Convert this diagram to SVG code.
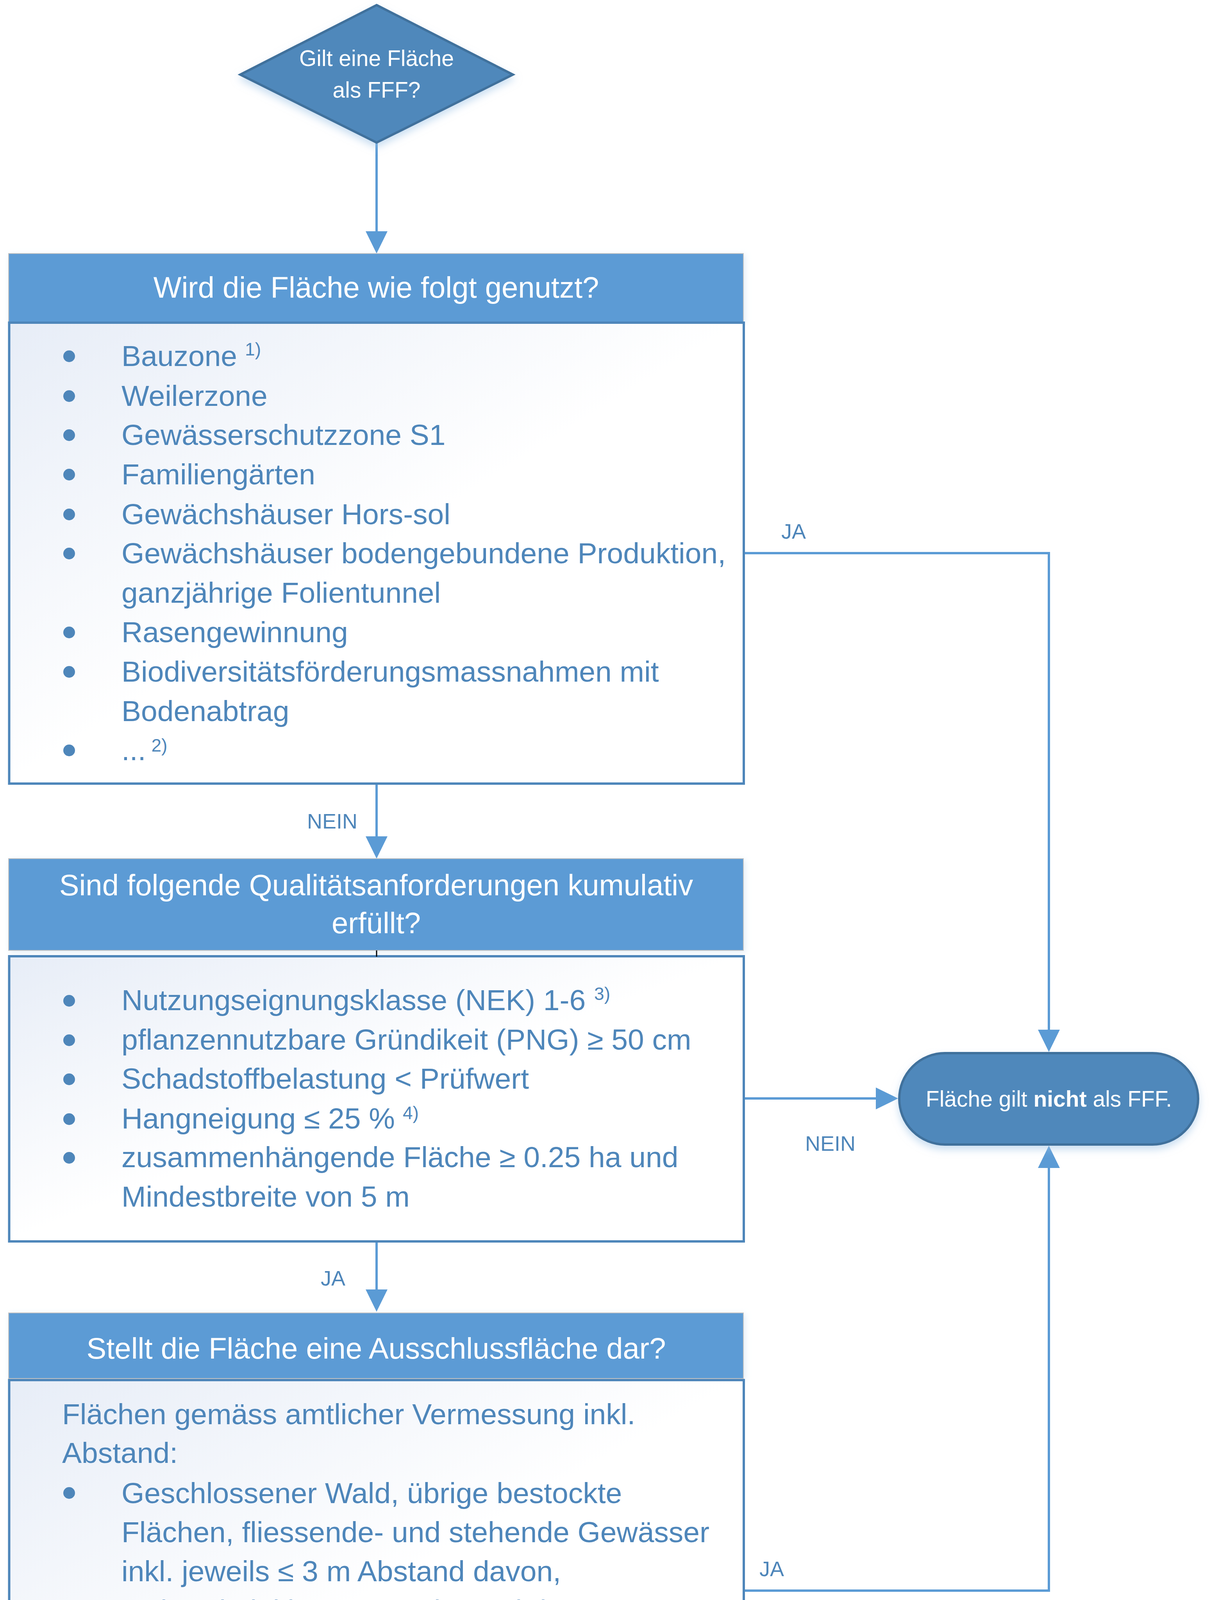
<svg xmlns="http://www.w3.org/2000/svg" width="3100" height="5098" viewBox="0 0 3100 5098">
<style>
text{font-family:"Liberation Sans",Arial,sans-serif}
.hd{fill:#FFFFFF;font-size:76px;text-anchor:middle}
.tx{fill:#4E86BA;font-size:75px}
.sup{font-size:46px}
.lbl{fill:#4E86BA;font-size:54px}
.wt{fill:#FFFFFF;font-size:57px;text-anchor:middle}
.hdr{fill:#5B9BD5;stroke:#C4C4C4;stroke-width:2}
.body{fill:url(#bg);stroke:#4E86BA;stroke-width:6}
.bul{fill:#4E86BA}
.shape{fill:#4F88BB;stroke:#41719C;stroke-width:6}
.con{fill:none;stroke:#5B9BD5;stroke-width:6;marker-end:url(#ah)}
</style>
<defs>
<linearGradient id="bg" x1="0" y1="0" x2="0.5" y2="0.5">
<stop offset="0" stop-color="#E7EDF7"/>
<stop offset="1" stop-color="#FFFFFF"/>
</linearGradient>
<filter id="glow" x="-10%" y="-10%" width="120%" height="135%">
<feGaussianBlur in="SourceAlpha" stdDeviation="10" result="b"/>
<feOffset in="b" dy="10" result="o"/>
<feFlood flood-color="#9DC3E6" flood-opacity="0.55"/>
<feComposite in2="o" operator="in" result="s"/>
<feMerge><feMergeNode in="s"/><feMergeNode in="SourceGraphic"/></feMerge>
</filter>
<filter id="glow2" x="-5%" y="-10%" width="110%" height="130%">
<feGaussianBlur in="SourceAlpha" stdDeviation="8" result="b"/>
<feOffset in="b" dx="4" dy="4" result="o"/>
<feFlood flood-color="#BDD7EE" flood-opacity="0.45"/>
<feComposite in2="o" operator="in" result="s"/>
<feMerge><feMergeNode in="s"/><feMergeNode in="SourceGraphic"/></feMerge>
</filter>
<marker id="ah" markerUnits="userSpaceOnUse" viewBox="0 0 57 56" markerWidth="57" markerHeight="56" refX="0" refY="28" orient="auto">
<path d="M0,0 L57,28 L0,56 Z" fill="#5B9BD5"/>
</marker>
</defs>
<rect x="0" y="0" width="3100" height="5098" fill="#FFFFFF"/>

<g id="connectors">
<path class="con" d="M964,367 V592"/>
<path class="con" d="M964,2008 V2141"/>
<path class="con" d="M964,3181 V3301"/>
<path class="con" d="M964,4616 V4757"/>
<path class="con" d="M1904,1416 H2685 V2636"/>
<path class="con" d="M1904,2812 H2242"/>
<path class="con" d="M1904,4072 H2685 V2990"/>
<text class="lbl" x="2000" y="1379">JA</text>
<text class="lbl" x="786" y="2121">NEIN</text>
<text class="lbl" x="2061" y="2946">NEIN</text>
<text class="lbl" x="821" y="3291">JA</text>
<text class="lbl" x="1944" y="4035">JA</text>
<text class="lbl" x="786" y="4747">NEIN</text>
</g>

<g id="start">
<polygon class="shape" filter="url(#glow)" points="964,13 1313,191 964,365 615,191" transform="translate(0,0)"/>
<text class="wt" x="964" y="169">Gilt eine Fläche</text>
<text class="wt" x="964" y="250">als FFF?</text>
</g>

<g id="nutzung">
<rect class="hdr" filter="url(#glow2)" x="22" y="649" width="1881" height="175"/>
<rect class="body" x="23.5" y="826" width="1880.5" height="1180"/>
<text class="hd" x="963" y="762">Wird die Fläche wie folgt genutzt?</text>
<circle class="bul" cx="177" cy="912" r="15"/>
<circle class="bul" cx="177" cy="1014" r="15"/>
<circle class="bul" cx="177" cy="1114" r="15"/>
<circle class="bul" cx="177" cy="1215" r="15"/>
<circle class="bul" cx="177" cy="1317" r="15"/>
<circle class="bul" cx="177" cy="1417" r="15"/>
<circle class="bul" cx="177" cy="1619" r="15"/>
<circle class="bul" cx="177" cy="1720" r="15"/>
<circle class="bul" cx="177" cy="1921" r="15"/>
<text class="tx" x="311" y="937">Bauzone<tspan class="sup" dx="20" dy="-27">1)</tspan></text>
<text class="tx" x="311" y="1039">Weilerzone</text>
<text class="tx" x="311" y="1139">Gewässerschutzzone S1</text>
<text class="tx" x="311" y="1240">Familiengärten</text>
<text class="tx" x="311" y="1342">Gewächshäuser Hors-sol</text>
<text class="tx" x="311" y="1442">Gewächshäuser bodengebundene Produktion,</text>
<text class="tx" x="311" y="1543">ganzjährige Folientunnel</text>
<text class="tx" x="311" y="1644">Rasengewinnung</text>
<text class="tx" x="311" y="1745">Biodiversitätsförderungsmassnahmen mit</text>
<text class="tx" x="311" y="1846">Bodenabtrag</text>
<text class="tx" x="311" y="1946">...<tspan class="sup" dx="14" dy="-22">2)</tspan></text>
</g>

<g id="qualitaet">
<rect class="hdr" filter="url(#glow2)" x="22" y="2198" width="1881" height="235"/>
<rect class="body" x="23.5" y="2448" width="1880.5" height="730"/>
<line x1="964" y1="2433" x2="964" y2="2449" stroke="#000000" stroke-width="3"/>
<text class="hd" x="963" y="2292">Sind folgende Qualitätsanforderungen kumulativ</text>
<text class="hd" x="963" y="2389">erfüllt?</text>
<circle class="bul" cx="177" cy="2562" r="15"/>
<circle class="bul" cx="177" cy="2663" r="15"/>
<circle class="bul" cx="177" cy="2763" r="15"/>
<circle class="bul" cx="177" cy="2865" r="15"/>
<circle class="bul" cx="177" cy="2964" r="15"/>
<text class="tx" x="311" y="2586">Nutzungseignungsklasse (NEK) 1-6<tspan class="sup" dx="22" dy="-26">3)</tspan></text>
<text class="tx" x="311" y="2687">pflanzennutzbare Gründikeit (PNG) ≥ 50 cm</text>
<text class="tx" x="311" y="2787">Schadstoffbelastung &lt; Prüfwert</text>
<text class="tx" x="311" y="2889">Hangneigung ≤ 25 %<tspan class="sup" dx="20" dy="-24">4)</tspan></text>
<text class="tx" x="311" y="2988">zusammenhängende Fläche ≥ 0.25 ha und</text>
<text class="tx" x="311" y="3089">Mindestbreite von 5 m</text>
</g>

<g id="ausschluss">
<rect class="hdr" filter="url(#glow2)" x="22" y="3361" width="1881" height="168"/>
<rect class="body" x="23.5" y="3533" width="1880.5" height="1080"/>
<text class="hd" x="963" y="3478">Stellt die Fläche eine Ausschlussfläche dar?</text>
<circle class="bul" cx="177" cy="3822" r="15"/>
<circle class="bul" cx="177" cy="4123" r="15"/>
<circle class="bul" cx="177" cy="4224" r="15"/>
<text class="tx" x="159" y="3646">Flächen gemäss amtlicher Vermessung inkl.</text>
<text class="tx" x="159" y="3745">Abstand:</text>
<text class="tx" x="311" y="3848">Geschlossener Wald, übrige bestockte</text>
<text class="tx" x="311" y="3948">Flächen, fliessende- und stehende Gewässer</text>
<text class="tx" x="311" y="4048">inkl. jeweils ≤ 3 m Abstand davon,</text>
<text class="tx" x="311" y="4149">Gebäude inkl. ≤ 2.5 m Abstand davon,</text>
<text class="tx" x="311" y="4250">Strassen, Wege, Trottoirs, Verkehrsinseln,</text>
<text class="tx" x="311" y="4349">Bahngeleise, Flugpisten, übrige befestigte</text>
<text class="tx" x="311" y="4450">Flächen, Gartenanlagen inkl. jeweils ≤ 1 m</text>
<text class="tx" x="311" y="4550">Abstand davon.</text>
</g>

<g id="nicht-fff">
<rect class="shape" filter="url(#glow)" x="2302" y="2696" width="765" height="234" rx="117" ry="117"/>
<text class="wt" x="2685" y="2833" font-size="56">Fläche gilt <tspan font-weight="bold">nicht</tspan> als FFF.</text>
</g>

<g id="fff">
<rect class="shape" filter="url(#glow)" x="581" y="4817" width="765" height="235" rx="117" ry="117"/>
<text class="wt" x="964" y="4955" font-size="56">Fläche gilt als FFF.</text>
</g>
</svg>
